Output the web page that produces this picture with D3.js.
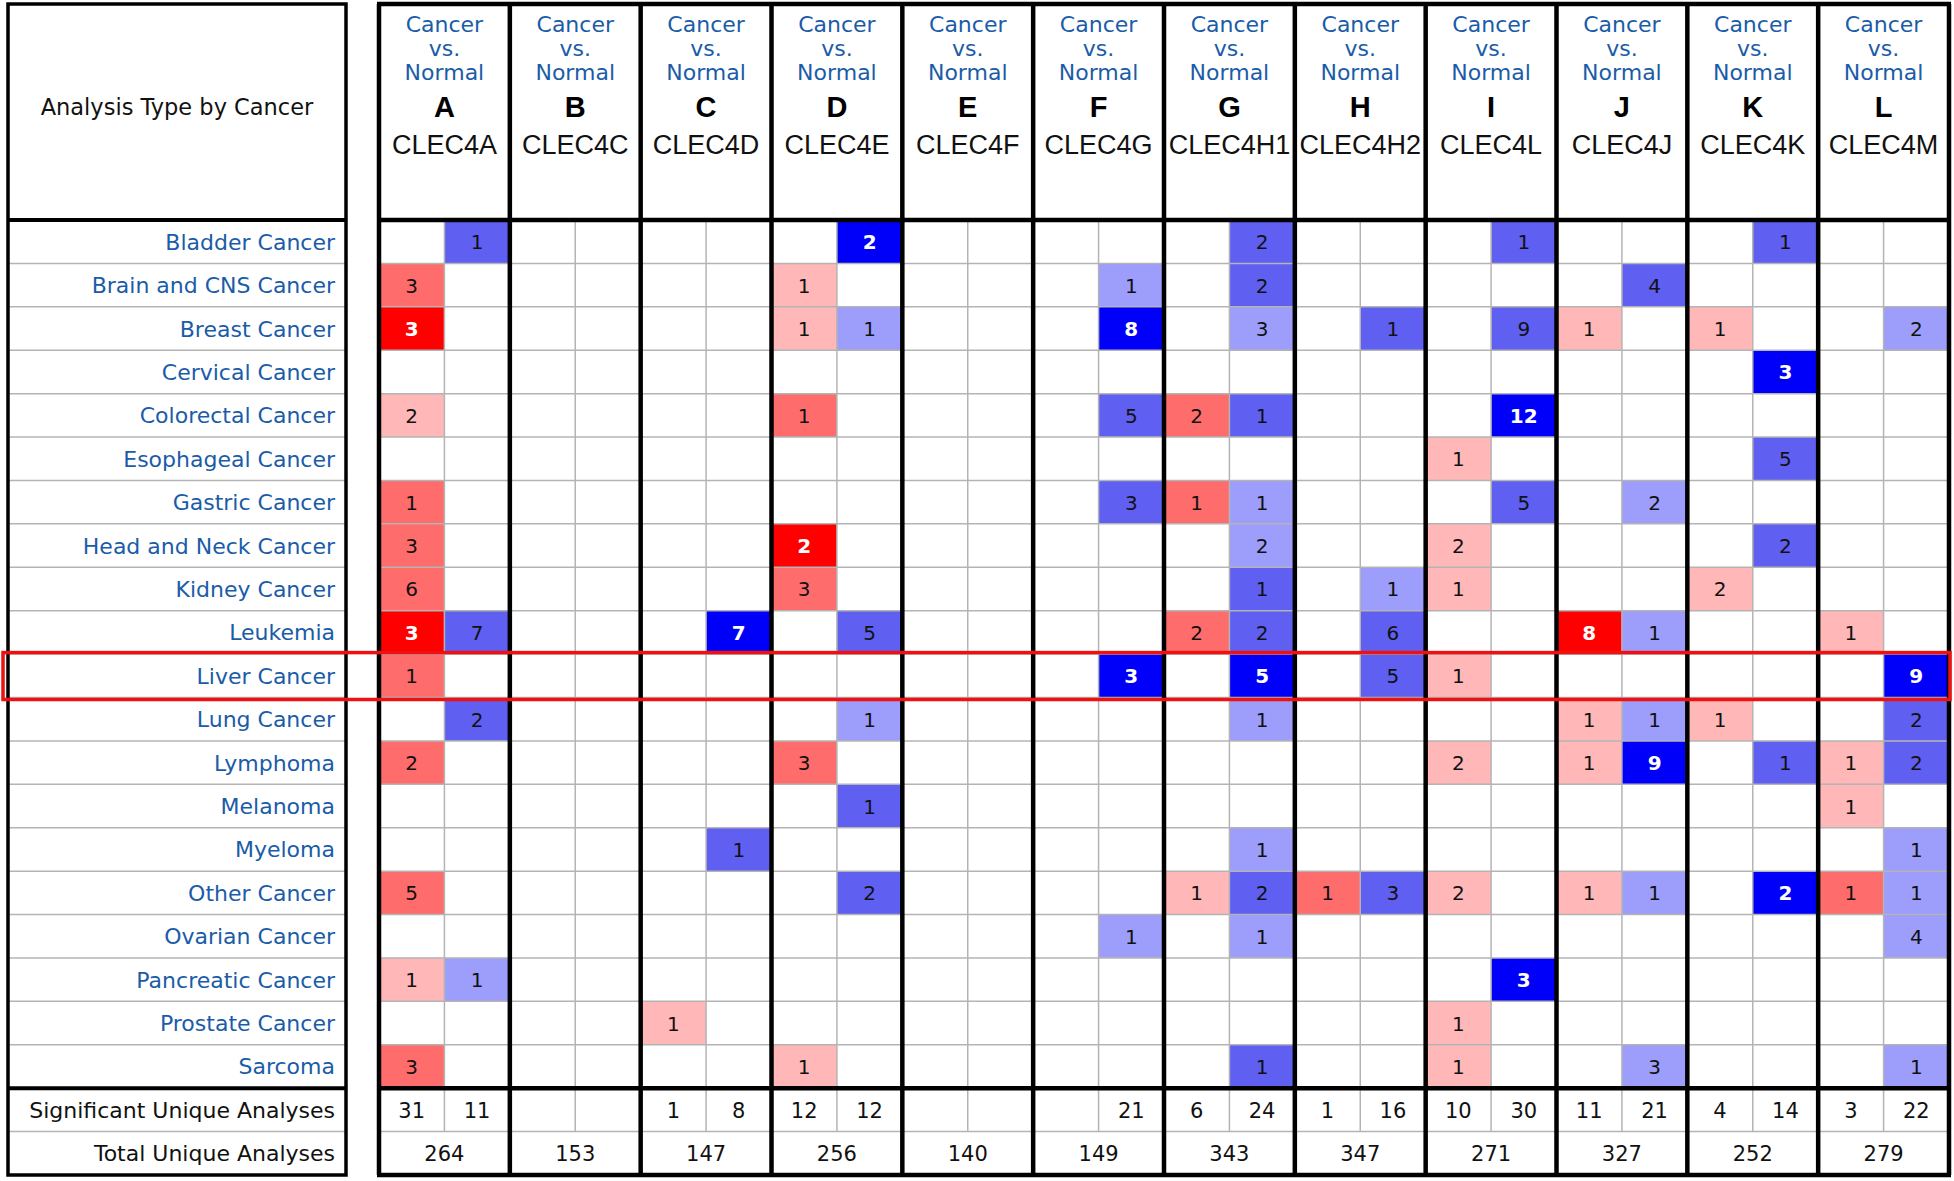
<!DOCTYPE html>
<html>
<head>
<meta charset="utf-8">
<script src="https://cdn.jsdelivr.net/npm/d3@7"></script>
<style>
html, body { margin: 0; padding: 0; background: #ffffff; }
svg { display: block; }
</style>
</head>
<body>
<svg id="chart" width="1954" height="1181"></svg>
<script>
// ---------------- data ----------------
const cancers = [
  "Bladder Cancer", "Brain and CNS Cancer", "Breast Cancer", "Cervical Cancer",
  "Colorectal Cancer", "Esophageal Cancer", "Gastric Cancer", "Head and Neck Cancer",
  "Kidney Cancer", "Leukemia", "Liver Cancer", "Lung Cancer", "Lymphoma",
  "Melanoma", "Myeloma", "Other Cancer", "Ovarian Cancer", "Pancreatic Cancer",
  "Prostate Cancer", "Sarcoma"
];
const geneLetters = ["A", "B", "C", "D", "E", "F", "G", "H", "I", "J", "K", "L"];
const genes = ["CLEC4A", "CLEC4C", "CLEC4D", "CLEC4E", "CLEC4F", "CLEC4G",
               "CLEC4H1", "CLEC4H2", "CLEC4L", "CLEC4J", "CLEC4K", "CLEC4M"];
const headerLines = ["Cancer", "vs.", "Normal"];
const summaryLabels = ["Significant Unique Analyses", "Total Unique Analyses"];
const significantOver  = [31, null, 1, 12, null, null, 6, 1, 10, 11, 4, 3];
const significantUnder = [11, null, 8, 12, null, 21, 24, 16, 30, 21, 14, 22];
const totalAnalyses    = [264, 153, 147, 256, 140, 149, 343, 347, 271, 327, 252, 279];
const highlightedCancer = "Liver Cancer";

// [gene, cancer, number of analyses, gene-rank level (1 = 10%, 2 = 5%, 3 = 1%)]
const overCells = [
  ["CLEC4A", "Brain and CNS Cancer", 3, 2], ["CLEC4A", "Breast Cancer", 3, 3],
  ["CLEC4A", "Colorectal Cancer", 2, 1], ["CLEC4A", "Gastric Cancer", 1, 2],
  ["CLEC4A", "Head and Neck Cancer", 3, 2], ["CLEC4A", "Kidney Cancer", 6, 2],
  ["CLEC4A", "Leukemia", 3, 3], ["CLEC4A", "Liver Cancer", 1, 2],
  ["CLEC4A", "Lymphoma", 2, 2], ["CLEC4A", "Other Cancer", 5, 2],
  ["CLEC4A", "Pancreatic Cancer", 1, 1], ["CLEC4A", "Sarcoma", 3, 2],
  ["CLEC4D", "Prostate Cancer", 1, 1],
  ["CLEC4E", "Brain and CNS Cancer", 1, 1], ["CLEC4E", "Breast Cancer", 1, 1],
  ["CLEC4E", "Colorectal Cancer", 1, 2], ["CLEC4E", "Head and Neck Cancer", 2, 3],
  ["CLEC4E", "Kidney Cancer", 3, 2], ["CLEC4E", "Lymphoma", 3, 2],
  ["CLEC4E", "Sarcoma", 1, 1],
  ["CLEC4H1", "Colorectal Cancer", 2, 2], ["CLEC4H1", "Gastric Cancer", 1, 2],
  ["CLEC4H1", "Leukemia", 2, 2], ["CLEC4H1", "Other Cancer", 1, 1],
  ["CLEC4H2", "Other Cancer", 1, 2],
  ["CLEC4L", "Esophageal Cancer", 1, 1], ["CLEC4L", "Head and Neck Cancer", 2, 1],
  ["CLEC4L", "Kidney Cancer", 1, 1], ["CLEC4L", "Liver Cancer", 1, 1],
  ["CLEC4L", "Lymphoma", 2, 1], ["CLEC4L", "Other Cancer", 2, 1],
  ["CLEC4L", "Prostate Cancer", 1, 1], ["CLEC4L", "Sarcoma", 1, 1],
  ["CLEC4J", "Breast Cancer", 1, 1], ["CLEC4J", "Leukemia", 8, 3],
  ["CLEC4J", "Lung Cancer", 1, 1], ["CLEC4J", "Lymphoma", 1, 1],
  ["CLEC4J", "Other Cancer", 1, 1],
  ["CLEC4K", "Breast Cancer", 1, 1], ["CLEC4K", "Kidney Cancer", 2, 1],
  ["CLEC4K", "Lung Cancer", 1, 1],
  ["CLEC4M", "Leukemia", 1, 1], ["CLEC4M", "Lymphoma", 1, 1],
  ["CLEC4M", "Melanoma", 1, 1], ["CLEC4M", "Other Cancer", 1, 2]
];
const underCells = [
  ["CLEC4A", "Bladder Cancer", 1, 2], ["CLEC4A", "Leukemia", 7, 2],
  ["CLEC4A", "Lung Cancer", 2, 2], ["CLEC4A", "Pancreatic Cancer", 1, 1],
  ["CLEC4D", "Leukemia", 7, 3], ["CLEC4D", "Myeloma", 1, 2],
  ["CLEC4E", "Bladder Cancer", 2, 3], ["CLEC4E", "Breast Cancer", 1, 1],
  ["CLEC4E", "Leukemia", 5, 2], ["CLEC4E", "Lung Cancer", 1, 1],
  ["CLEC4E", "Melanoma", 1, 2], ["CLEC4E", "Other Cancer", 2, 2],
  ["CLEC4G", "Brain and CNS Cancer", 1, 1], ["CLEC4G", "Breast Cancer", 8, 3],
  ["CLEC4G", "Colorectal Cancer", 5, 2], ["CLEC4G", "Gastric Cancer", 3, 2],
  ["CLEC4G", "Liver Cancer", 3, 3], ["CLEC4G", "Ovarian Cancer", 1, 1],
  ["CLEC4H1", "Bladder Cancer", 2, 2], ["CLEC4H1", "Brain and CNS Cancer", 2, 2],
  ["CLEC4H1", "Breast Cancer", 3, 1], ["CLEC4H1", "Colorectal Cancer", 1, 2],
  ["CLEC4H1", "Gastric Cancer", 1, 1], ["CLEC4H1", "Head and Neck Cancer", 2, 1],
  ["CLEC4H1", "Kidney Cancer", 1, 2], ["CLEC4H1", "Leukemia", 2, 2],
  ["CLEC4H1", "Liver Cancer", 5, 3], ["CLEC4H1", "Lung Cancer", 1, 1],
  ["CLEC4H1", "Myeloma", 1, 1], ["CLEC4H1", "Other Cancer", 2, 2],
  ["CLEC4H1", "Ovarian Cancer", 1, 1], ["CLEC4H1", "Sarcoma", 1, 2],
  ["CLEC4H2", "Breast Cancer", 1, 2], ["CLEC4H2", "Kidney Cancer", 1, 1],
  ["CLEC4H2", "Leukemia", 6, 2], ["CLEC4H2", "Liver Cancer", 5, 2],
  ["CLEC4H2", "Other Cancer", 3, 2],
  ["CLEC4L", "Bladder Cancer", 1, 2], ["CLEC4L", "Breast Cancer", 9, 2],
  ["CLEC4L", "Colorectal Cancer", 12, 3], ["CLEC4L", "Gastric Cancer", 5, 2],
  ["CLEC4L", "Pancreatic Cancer", 3, 3],
  ["CLEC4J", "Brain and CNS Cancer", 4, 2], ["CLEC4J", "Gastric Cancer", 2, 1],
  ["CLEC4J", "Leukemia", 1, 1], ["CLEC4J", "Lung Cancer", 1, 1],
  ["CLEC4J", "Lymphoma", 9, 3], ["CLEC4J", "Other Cancer", 1, 1],
  ["CLEC4J", "Sarcoma", 3, 1],
  ["CLEC4K", "Bladder Cancer", 1, 2], ["CLEC4K", "Cervical Cancer", 3, 3],
  ["CLEC4K", "Esophageal Cancer", 5, 2], ["CLEC4K", "Head and Neck Cancer", 2, 2],
  ["CLEC4K", "Lymphoma", 1, 2], ["CLEC4K", "Other Cancer", 2, 3],
  ["CLEC4M", "Breast Cancer", 2, 1], ["CLEC4M", "Liver Cancer", 9, 3],
  ["CLEC4M", "Lung Cancer", 2, 2], ["CLEC4M", "Lymphoma", 2, 2],
  ["CLEC4M", "Myeloma", 1, 1], ["CLEC4M", "Other Cancer", 1, 1],
  ["CLEC4M", "Ovarian Cancer", 4, 1], ["CLEC4M", "Sarcoma", 1, 1]
];

// ---------------- layout ----------------
const svg = d3.select("#chart");
const TOP = 4, HEADER_BOTTOM = 220, BOTTOM = 1175;
const LEFT_X0 = 8, LEFT_X1 = 346;
const rowKeys = cancers.concat(summaryLabels);
const y = d3.scaleBand().domain(rowKeys).range([HEADER_BOTTOM, BOTTOM]);
const x = d3.scaleBand().domain(genes).range([379, 1949]);
const sub = d3.scaleBand().domain(["over", "under"]).range([0, x.bandwidth()]);
const redScale = d3.scaleOrdinal().domain([1, 2, 3]).range(["#ffb7b7", "#ff6c6c", "#ff0000"]);
const blueScale = d3.scaleOrdinal().domain([1, 2, 3]).range(["#9d9dfb", "#5f5ff2", "#0000fa"]);
const LABEL_FONT = "'DejaVu Sans', sans-serif";
const HEAD_FONT = "'Liberation Sans', Arial, sans-serif";
const BLUE_TEXT = "#1a5ca8";
const GRID = "#b4b4b4";
const sigY = y(summaryLabels[0]);
const totY = y(summaryLabels[1]);
const bw = y.bandwidth();

const cells = overCells.map(d => ({gene: d[0], cancer: d[1], count: d[2], level: d[3], dir: "over"}))
  .concat(underCells.map(d => ({gene: d[0], cancer: d[1], count: d[2], level: d[3], dir: "under"})));

// cell fills
svg.append("g").selectAll("rect").data(cells).join("rect")
  .attr("x", d => x(d.gene) + sub(d.dir))
  .attr("y", d => y(d.cancer))
  .attr("width", sub.bandwidth())
  .attr("height", bw)
  .attr("fill", d => d.dir === "over" ? redScale(d.level) : blueScale(d.level));

// thin grid
const grid = svg.append("g").attr("stroke", GRID).attr("stroke-width", 1.5);
const innerRows = rowKeys.slice(1).filter(k => k !== summaryLabels[0]);
grid.selectAll("line.hl").data(innerRows).join("line")
  .attr("x1", LEFT_X0).attr("x2", LEFT_X1)
  .attr("y1", d => y(d)).attr("y2", d => y(d));
grid.selectAll("line.hr").data(innerRows).join("line")
  .attr("x1", x.range()[0]).attr("x2", x.range()[1])
  .attr("y1", d => y(d)).attr("y2", d => y(d));
grid.selectAll("line.v").data(genes).join("line")
  .attr("x1", d => x(d) + sub("under")).attr("x2", d => x(d) + sub("under"))
  .attr("y1", HEADER_BOTTOM).attr("y2", totY);

// thick borders
const borders = svg.append("g").attr("stroke", "#000").attr("fill", "none");
borders.append("rect")
  .attr("x", LEFT_X0).attr("y", TOP)
  .attr("width", LEFT_X1 - LEFT_X0).attr("height", BOTTOM - TOP)
  .attr("stroke-width", 3.5);
[HEADER_BOTTOM, sigY].forEach(yy => {
  borders.append("line").attr("x1", LEFT_X0).attr("x2", LEFT_X1)
    .attr("y1", yy).attr("y2", yy).attr("stroke-width", 4);
});
const panelEdges = genes.map(g => x(g)).concat([x.range()[1]]);
borders.selectAll("line.pv").data(panelEdges).join("line")
  .attr("x1", d => d).attr("x2", d => d)
  .attr("y1", TOP).attr("y2", BOTTOM)
  .attr("stroke-width", 4.5);
borders.selectAll("line.ph").data([TOP, HEADER_BOTTOM, sigY, BOTTOM]).join("line")
  .attr("x1", x.range()[0] - 2).attr("x2", x.range()[1] + 2)
  .attr("y1", d => d).attr("y2", d => d)
  .attr("stroke-width", 4.5);

// left header
svg.append("text")
  .attr("x", (LEFT_X0 + LEFT_X1) / 2).attr("y", 115)
  .attr("text-anchor", "middle")
  .attr("font-family", LABEL_FONT).attr("font-size", 22.5).attr("fill", "#111")
  .text("Analysis Type by Cancer");

// row labels
svg.append("g").selectAll("text").data(rowKeys).join("text")
  .attr("x", 335)
  .attr("y", d => y(d) + bw / 2 + 8)
  .attr("text-anchor", "end")
  .attr("font-family", LABEL_FONT).attr("font-size", 22)
  .attr("fill", d => summaryLabels.includes(d) ? "#111" : BLUE_TEXT)
  .text(d => d);

// gene headers
const head = svg.append("g").selectAll("g").data(genes).join("g")
  .attr("transform", d => `translate(${x(d) + x.bandwidth() / 2},0)`);
headerLines.forEach((t, i) => {
  head.append("text").attr("y", 32 + i * 24).attr("text-anchor", "middle")
    .attr("font-family", LABEL_FONT).attr("font-size", 22).attr("fill", BLUE_TEXT)
    .text(t);
});
head.append("text").attr("y", 117).attr("text-anchor", "middle")
  .attr("font-family", HEAD_FONT).attr("font-size", 29).attr("font-weight", "bold")
  .attr("fill", "#000")
  .text((d, i) => geneLetters[i]);
head.append("text").attr("y", 154).attr("text-anchor", "middle")
  .attr("font-family", HEAD_FONT).attr("font-size", 27).attr("fill", "#111")
  .text(d => d);

// cell numbers
svg.append("g").selectAll("text").data(cells).join("text")
  .attr("x", d => x(d.gene) + sub(d.dir) + sub.bandwidth() / 2)
  .attr("y", d => y(d.cancer) + bw / 2 + 7.5)
  .attr("text-anchor", "middle")
  .attr("font-family", LABEL_FONT).attr("font-size", 20)
  .attr("font-weight", d => d.level === 3 ? "bold" : "normal")
  .attr("fill", d => d.level === 3 ? "#ffffff" : "#111")
  .text(d => d.count);

// summary rows
const sigData = genes.flatMap((g, i) => [
  {gene: g, dir: "over", v: significantOver[i]},
  {gene: g, dir: "under", v: significantUnder[i]}
]).filter(d => d.v !== null);
svg.append("g").selectAll("text").data(sigData).join("text")
  .attr("x", d => x(d.gene) + sub(d.dir) + sub.bandwidth() / 2)
  .attr("y", sigY + bw / 2 + 8)
  .attr("text-anchor", "middle")
  .attr("font-family", LABEL_FONT).attr("font-size", 21).attr("fill", "#111")
  .text(d => d.v);
svg.append("g").selectAll("text").data(genes).join("text")
  .attr("x", d => x(d) + x.bandwidth() / 2)
  .attr("y", totY + bw / 2 + 8)
  .attr("text-anchor", "middle")
  .attr("font-family", LABEL_FONT).attr("font-size", 21).attr("fill", "#111")
  .text((d, i) => totalAnalyses[i]);

// highlight box
svg.append("rect")
  .attr("x", 3).attr("y", y(highlightedCancer) - 1.5)
  .attr("width", 1947).attr("height", bw + 3.5)
  .attr("fill", "none").attr("stroke", "#ee1111").attr("stroke-width", 3.5);
</script>
</body>
</html>
